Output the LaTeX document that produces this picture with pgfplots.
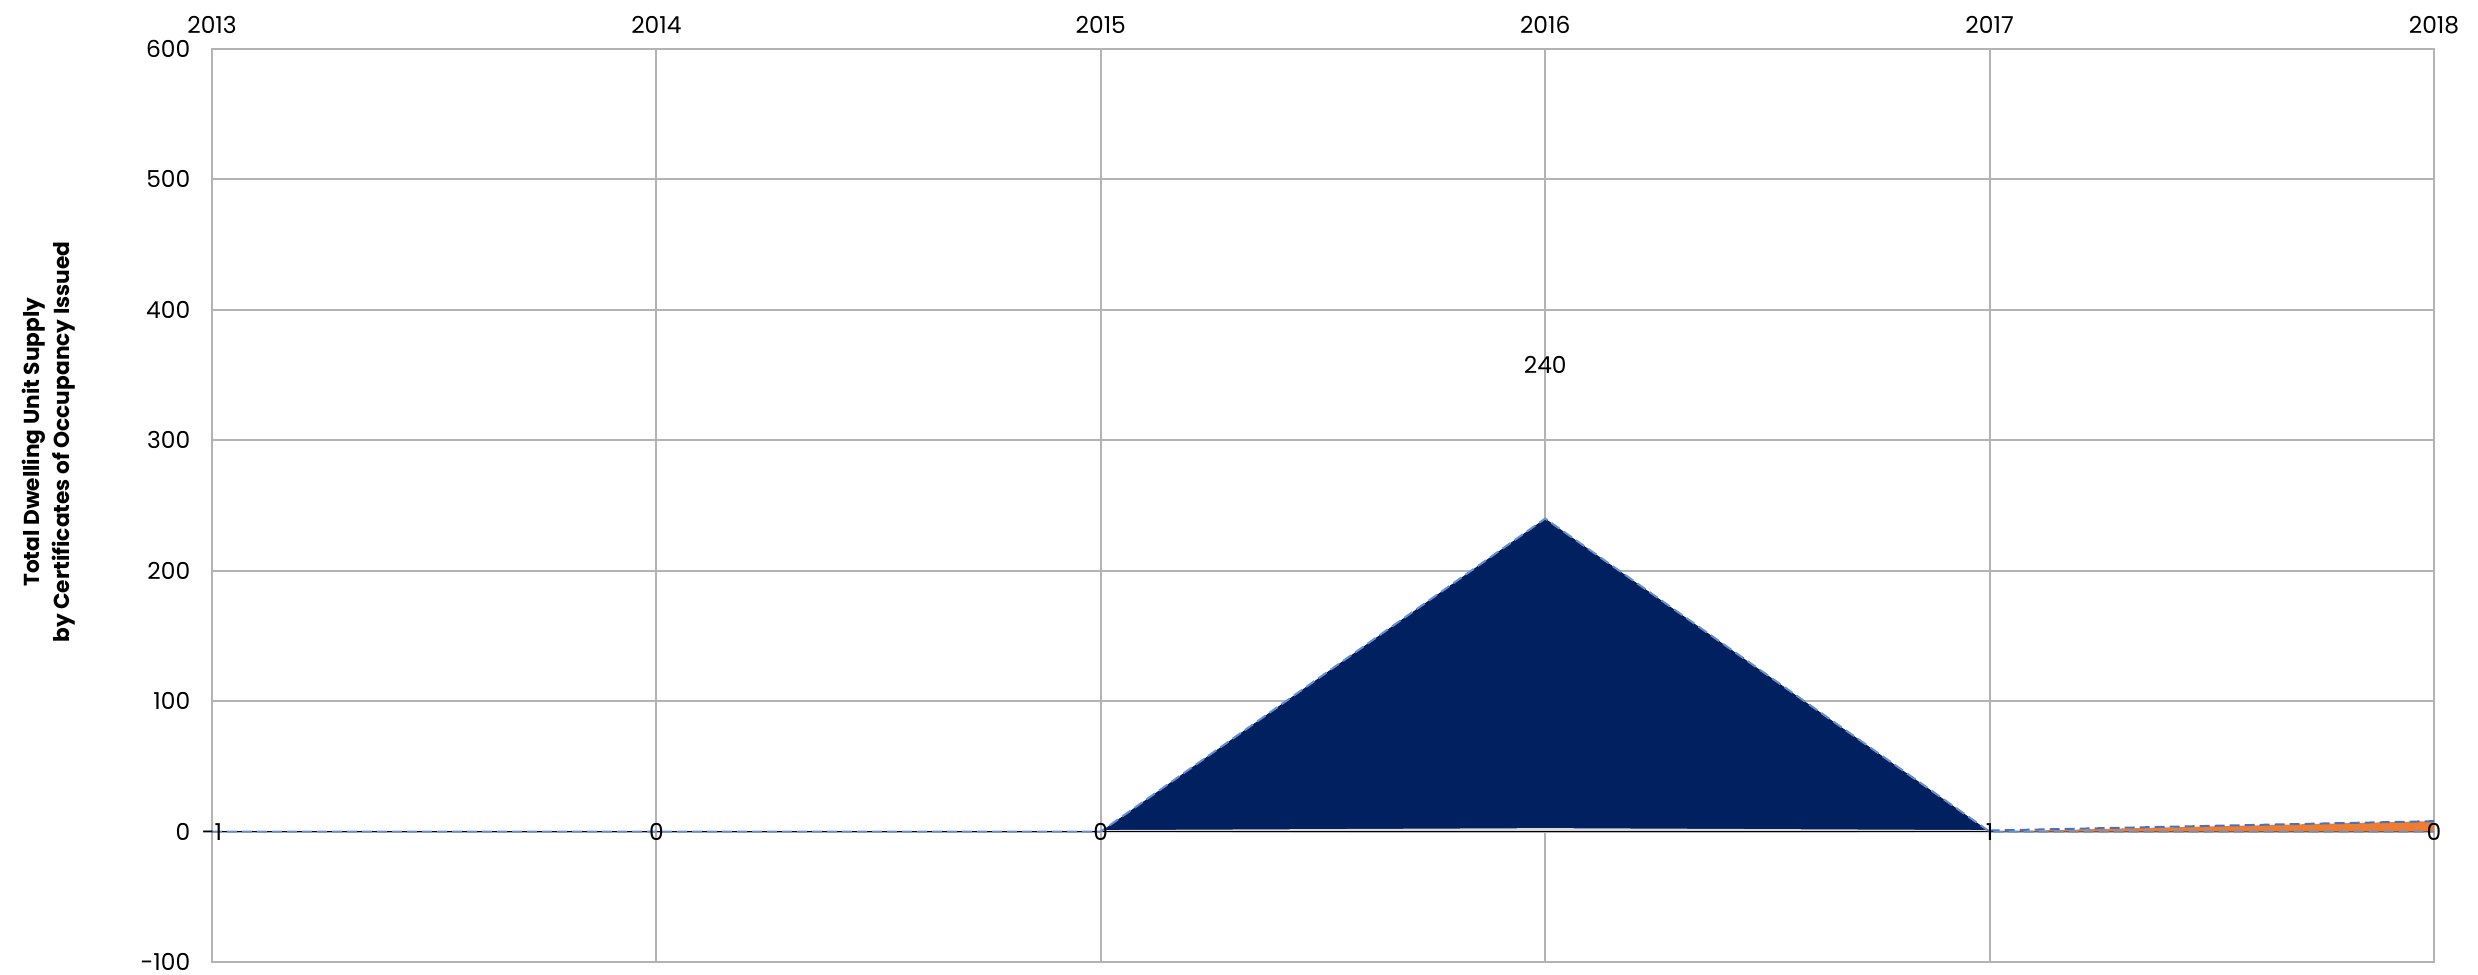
\documentclass[border=0pt]{standalone}
\usepackage{pgfplots}
\pgfplotsset{compat=1.18}
\usepackage{fontspec}
\setmainfont{Poppins}

\definecolor{gridgray}{HTML}{B3B3B3}
\definecolor{navy}{HTML}{002060}
\definecolor{exorange}{HTML}{ED7D31}
\definecolor{exblue}{HTML}{4472C4}
\definecolor{basegray}{HTML}{D9D9D9}

\begin{document}
\begin{tikzpicture}
\begin{axis}[
  scale only axis,
  width=666.6pt, height=273.9pt,
  xmin=2013, xmax=2018, ymin=-100, ymax=600,
  xtick={2013,2014,2015,2016,2017,2018},
  xticklabels={2013,2014,2015,2016,2017,2018},
  xticklabel pos=upper,
  ytick={-100,0,100,200,300,400,500,600},
  grid=major,
  major grid style={color=gridgray, line width=0.6pt},
  axis line style={color=gridgray, line width=0.6pt},
  tick style={draw=none},
  /pgf/number format/assume math mode=true,
  ticklabel style={font=\fontsize{7}{8}\selectfont, text=black},
  yticklabel style={xshift=-3pt},
  xticklabel style={yshift=1pt},
  ylabel={Total Dwelling Unit Supply\\by Certificates of Occupancy Issued},
  ylabel style={at={(axis description cs:0,0.5)}, yshift=49pt, xshift=19pt, anchor=center,
    align=center, font=\bfseries\fontsize{6.5}{8.8}\selectfont},
]
% dwelling units delivered 2015-2017
\addplot[fill=navy, draw=none] coordinates {(2015,0) (2016,240) (2017,0)} \closedcycle;
% thin base band under the peak
\addplot[basegray, line width=0.9pt] coordinates {(2015,0) (2016,1.5) (2017,0)};
% zero line
\addplot[black, line width=0.5pt] coordinates {(2013,0) (2018,0)};
% second series 2017-2018
\addplot[fill=exorange, draw=none] coordinates {(2017,0) (2018,8)} \closedcycle;
\addplot[exblue, line width=0.6pt, dash pattern=on 3pt off 1.5pt] coordinates {(2017,0.8) (2018,8)};
% outline of the first series
\addplot[exblue!80, line width=0.6pt, dash pattern=on 3pt off 1.5pt]
  coordinates {(2013,0) (2014,0) (2015,0) (2016,240) (2017,0) (2018,0)};
% value labels
\addplot[draw=none, mark=none, nodes near coords, point meta=explicit symbolic,
  every node near coord/.style={anchor=center, font=\fontsize{7}{8}\selectfont, text=black}]
  table[meta=lab] {
x y lab
2013 0 -1
2014 0 0
2015 0 0
2017 0 1
2018 0 0
};
\node[font=\fontsize{7}{8}\selectfont] at (axis cs:2016,240) [yshift=46.2pt] {240};
\end{axis}
\pgfresetboundingbox
\path[use as bounding box] ([shift={(-63.6pt,-3.6pt)}]current axis.south west)
  rectangle ([shift={(13.2pt,14.7pt)}]current axis.north east);
\end{tikzpicture}
\end{document}
